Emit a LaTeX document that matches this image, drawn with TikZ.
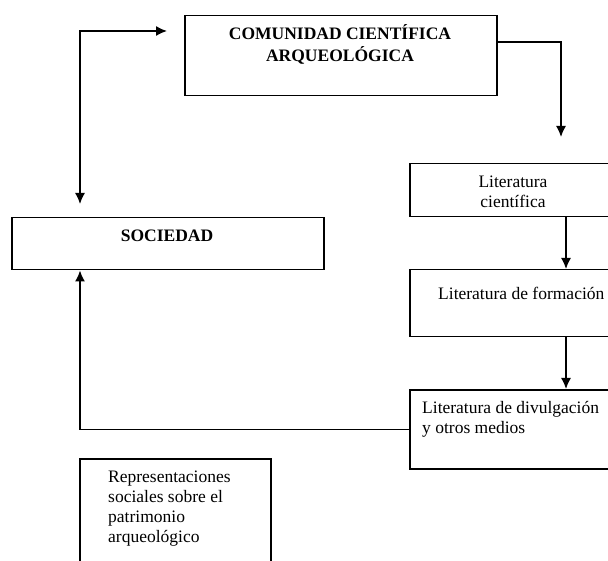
\documentclass[tikz,border=0pt]{standalone}
\usepackage{fontspec}
\setmainfont{Liberation Serif}
\usetikzlibrary{arrows.meta}
\tikzset{
  caja/.style={draw, line width=1.5pt, anchor=north west, inner sep=0pt},
  rotulo/.style={inner sep=0pt, font=\fontsize{17.5}{20}\selectfont},
  flecha/.style={line width=1.5pt, -{Latex[length=11pt,width=10pt]}},
}
\begin{document}
\begin{tikzpicture}[x=1pt,y=-1pt]
    		\useasboundingbox (0,0) rectangle (608,561);
    		\clip (0,0) rectangle (608,561);
    		% cajas
    		\node[caja, minimum width=312pt, minimum height=80pt] (comunidad) at (184,15) {};
    		\node[caja, minimum width=312pt, minimum height=52pt] (sociedad) at (11,217) {};
    		\node[caja, minimum width=220pt, minimum height=53pt] (cientifica) at (409,163) {};
    		\node[caja, minimum width=220pt, minimum height=67pt] (formacion) at (409,269) {};
    		\node[caja, minimum width=220pt, minimum height=79pt] (divulgacion) at (409,389) {};
    		\node[caja, minimum width=191pt, minimum height=130pt] (representaciones) at (79,458) {};
    		% textos
    		\node[rotulo, anchor=north, align=center] (tcomunidad) at (340,24) {\textbf{COMUNIDAD CIENTÍFICA}\\[2pt]\textbf{ARQUEOLÓGICA}};
    		\node[rotulo, anchor=north] (tsociedad) at (167,230) {\textbf{SOCIEDAD}};
    		\node[rotulo, anchor=north, align=center] (tcientifica) at (513,176) {Literatura\\científica};
    		\node[rotulo, anchor=north west] (tformacion) at (438,287) {Literatura de formación};
    		\node[rotulo, anchor=north west, align=left] (tdivulgacion) at (422,401) {Literatura de divulgación\\y otros medios};
    		\node[rotulo, anchor=north west, align=left] (trepresentaciones) at (108,471) {Representaciones\\sociales sobre el\\patrimonio\\arqueológico};
    		% conectores
    		\coordinate (izq) at (80,0);
    		\coordinate (der) at (566,0);
    		\coordinate (c1) at (167,31);
    		\coordinate (c2) at (80,204);
    		\coordinate (c3) at (561,137);
    		\draw[flecha, {Latex[length=11pt,width=10pt]}-{Latex[length=11pt,width=10pt]}] (c1) -| (c2);
    		\draw[flecha] (comunidad.east |- 0,42) -| (c3);
    		\draw[flecha] (cientifica.south -| der) -- (formacion.north -| der);
    		\draw[flecha] (formacion.south -| der) -- (divulgacion.north -| der);
    		\draw[flecha] (divulgacion.west) -| (sociedad.south -| izq);
    		\end{tikzpicture}
\end{document}
